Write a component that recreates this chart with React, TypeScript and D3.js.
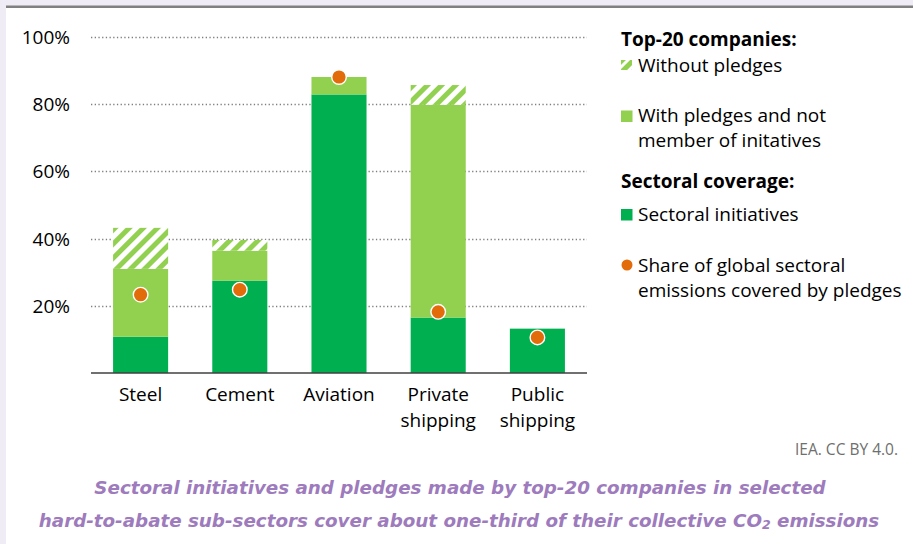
import React from "react";
import * as d3 from "d3";

const categories: string[][] = [["Steel"], ["Cement"], ["Aviation"], ["Private", "shipping"], ["Public", "shipping"]];
const sectoralInitiatives: number[] = [10.8, 27.5, 82.9, 16.5, 13.2];
const withPledges: number[] = [20.2, 8.9, 5.2, 63.3, 0];
const withoutPledges: number[] = [12.2, 3.2, 0, 5.9, 0];
const shareCovered: number[] = [23.3, 24.8, 88.1, 18.2, 10.6];
const yTicks: number[] = [20, 40, 60, 80, 100];

const W = 913;
const H = 544;
const DARK = "#00b050";
const LIGHT = "#92d050";
const ORANGE = "#e36c0a";
const FONT = "'Open Sans', 'Noto Sans', sans-serif";
const TITLE_FONT = "'DejaVu Sans', Lato, sans-serif";
const FS = 19;

export default function App() {
  const x = d3
    .scaleBand<number>()
    .domain(d3.range(categories.length))
    .range([91, 587])
    .paddingInner(0.445)
    .paddingOuter(0.2225);
  const y = d3.scaleLinear().domain([0, 100]).range([373, 37]);

  const stacks = categories.map((_, i) => {
    const a = sectoralInitiatives[i];
    const b = a + withPledges[i];
    const c = b + withoutPledges[i];
    return [
      { y0: 0, y1: a, fill: DARK },
      { y0: a, y1: b, fill: LIGHT },
      { y0: b, y1: c, fill: "url(#hatch)" },
    ];
  });

  return (
    <svg
      width={W}
      height={H}
      style={{ position: "absolute", left: 0, top: 0, display: "block" }}
      fontFamily={FONT}
    >
      <defs>
        <pattern id="hatch" patternUnits="userSpaceOnUse" width={10} height={10} patternTransform="rotate(45)">
          <rect x={0} y={0} width={10} height={10} fill="#ffffff" />
          <rect x={0} y={0} width={5} height={10} fill={LIGHT} />
        </pattern>
        <pattern id="hatchLegend" patternUnits="userSpaceOnUse" width={8} height={8} patternTransform="rotate(45)">
          <rect x={0} y={0} width={8} height={8} fill="#ffffff" />
          <rect x={0} y={0} width={5} height={8} fill={LIGHT} />
        </pattern>
      </defs>
      <rect x={0} y={0} width={W} height={H} fill="#efecf6" />
      <rect x={6} y={8} width={W - 6} height={H - 8} fill="#ffffff" />
      <rect x={6} y={5.5} width={W - 6} height={2.5} fill="#808080" />

      {/* gridlines */}
      {yTicks.map((t) => (
        <g key={t}>
          <line
            x1={91}
            x2={587}
            y1={Math.round(y(t)) + 0.5}
            y2={Math.round(y(t)) + 0.5}
            stroke="#7f7f7f"
            strokeWidth={1.3}
            strokeDasharray="1.3 2.4"
          />
          <text x={70} y={y(t) + 7} textAnchor="end" fontSize={FS} fill="#000">
            {t}%
          </text>
        </g>
      ))}

      {/* bars */}
      {stacks.map((segs, i) =>
        segs
          .filter((s) => s.y1 - s.y0 > 0)
          .map((s, j) => (
            <rect
              key={`${i}-${j}`}
              x={x(i)}
              width={x.bandwidth()}
              y={y(s.y1)}
              height={y(s.y0) - y(s.y1)}
              fill={s.fill}
            />
          ))
      )}

      {/* baseline */}
      <line x1={91} x2={587} y1={373} y2={373} stroke="#404040" strokeWidth={1.3} />

      {/* dots */}
      {shareCovered.map((v, i) => (
        <circle
          key={i}
          cx={(x(i) as number) + x.bandwidth() / 2}
          cy={y(v)}
          r={7.3}
          fill={ORANGE}
          stroke="#ffffff"
          strokeWidth={1.4}
        />
      ))}

      {/* category labels */}
      {categories.map((lines, i) => (
        <text
          key={i}
          x={(x(i) as number) + x.bandwidth() / 2}
          y={401}
          textAnchor="middle"
          fontSize={FS}
          fill="#000"
        >
          {lines.map((l, k) => (
            <tspan key={k} x={(x(i) as number) + x.bandwidth() / 2} dy={k === 0 ? 0 : 26}>
              {l}
            </tspan>
          ))}
        </text>
      ))}

      {/* legend */}
      <g fontSize={FS} fill="#000">
        <text x={621} y={46} fontWeight="bold">Top-20 companies:</text>
        <rect x={621} y={60} width={11} height={10} fill="url(#hatchLegend)" />
        <text x={638} y={72}>Without pledges</text>
        <rect x={621} y={110.5} width={11.5} height={11.5} fill={LIGHT} />
        <text x={638} y={122}>With pledges and not</text>
        <text x={638} y={147}>member of initatives</text>
        <text x={621} y={188} fontWeight="bold">Sectoral coverage:</text>
        <rect x={621} y={209} width={11.5} height={11.5} fill={DARK} />
        <text x={638} y={221}>Sectoral initiatives</text>
        <circle cx={627} cy={265} r={5.5} fill={ORANGE} />
        <text x={638} y={272}>Share of global sectoral</text>
        <text x={638} y={297}>emissions covered by pledges</text>
      </g>

      <text x={898} y={455} textAnchor="end" fontSize={15.5} fill="#6f6f6f" fontFamily="'Liberation Sans Narrow', 'Open Sans', sans-serif">
        IEA. CC BY 4.0.
      </text>

      <g fontFamily={TITLE_FONT} fontWeight="bold" fontStyle="italic" fontSize={18.3} fill="#9d7bbc" textAnchor="middle">
        <text x={460} y={494}>Sectoral initiatives and pledges made by top-20 companies in selected</text>
        <text x={459} y={527}>
          hard-to-abate sub-sectors cover about one-third of their collective CO
          <tspan fontSize={12.5} dy={2}>2</tspan>
          <tspan dy={-2}> emissions</tspan>
        </text>
      </g>
    </svg>
  );
}
